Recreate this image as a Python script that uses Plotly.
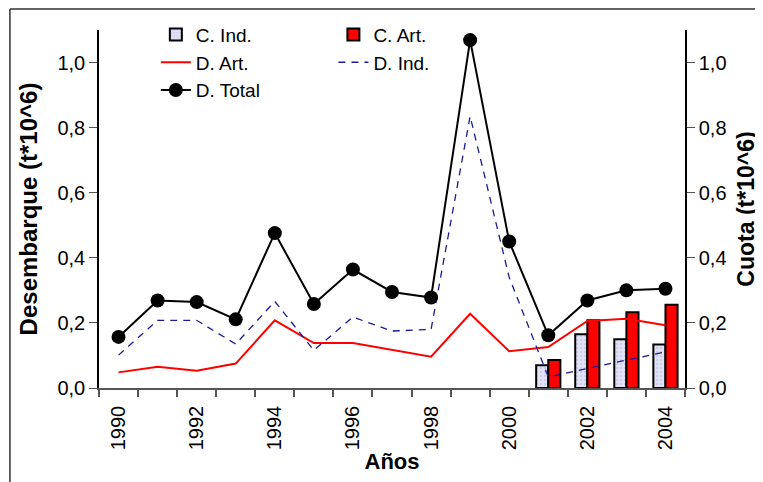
import plotly.graph_objects as go

years = [1990, 1991, 1992, 1993, 1994, 1995, 1996, 1997, 1998, 1999, 2000, 2001, 2002, 2003, 2004]
d_total = [0.157, 0.269, 0.264, 0.211, 0.476, 0.258, 0.364, 0.295, 0.278, 1.069, 0.450, 0.162, 0.269, 0.300, 0.305]
d_art = [0.048, 0.065, 0.053, 0.075, 0.208, 0.138, 0.138, 0.118, 0.096, 0.228, 0.113, 0.126, 0.206, 0.213, 0.193]
d_ind = [0.101, 0.208, 0.208, 0.135, 0.266, 0.116, 0.218, 0.175, 0.180, 0.835, 0.340, 0.034, 0.060, 0.085, 0.111]

quota_years = [2001, 2002, 2003, 2004]
c_ind = [0.070, 0.165, 0.150, 0.134]
c_art = [0.086, 0.208, 0.233, 0.256]

year_labels = [1990, 1992, 1994, 1996, 1998, 2000, 2002, 2004]

FONT = "Arial, 'Liberation Sans', sans-serif"

fig = go.Figure()

fig.add_trace(go.Bar(
    x=quota_years, y=c_ind, name="C. Ind.", yaxis="y2", offsetgroup="ind",
    marker=dict(color="#e4e4f8", line=dict(color="black", width=2),
                pattern=dict(shape=".", bgcolor="#e4e4f8", fgcolor="#b4b4dc", size=4, solidity=0.3)),
    legend="legend",
))
fig.add_trace(go.Bar(
    x=quota_years, y=c_art, name="C. Art.", yaxis="y2", offsetgroup="art",
    marker=dict(color="#ff0000", line=dict(color="black", width=2)),
    legend="legend2",
))
fig.add_trace(go.Scatter(
    x=years, y=d_art, name="D. Art.", mode="lines", yaxis="y",
    line=dict(color="#ff0000", width=2), legend="legend",
))
fig.add_trace(go.Scatter(
    x=years, y=d_ind, name="D. Ind.", mode="lines", yaxis="y",
    line=dict(color="#1a1a9a", width=1.3, dash="7px,6px"), legend="legend2",
))
fig.add_trace(go.Scatter(
    x=years, y=d_total, name="D. Total", mode="lines+markers", yaxis="y",
    line=dict(color="black", width=2),
    marker=dict(color="black", size=14, symbol="circle"), legend="legend",
))

legend_common = dict(
    font=dict(family=FONT, size=19, color="black"),
    bgcolor="rgba(0,0,0,0)", borderwidth=0, tracegroupgap=0,
    itemwidth=30, xanchor="left", yanchor="top", traceorder="normal",
)

fig.update_layout(
    width=755, height=474,
    margin=dict(l=91, r=78, t=22, b=94, autoexpand=False),
    paper_bgcolor="white", plot_bgcolor="white",
    separators=",.",
    font=dict(family=FONT, size=20, color="black"),
    barmode="group", bargap=0.38, bargroupgap=0,
    showlegend=True,
    legend=dict(x=0.097, y=1.04, **legend_common),
    legend2=dict(x=0.40, y=1.04, **legend_common),
    xaxis=dict(
        range=[1989.5, 2004.5], tickmode="array", tickvals=year_labels,
        ticktext=[str(y) for y in year_labels], tickangle=-90,
        ticks="outside", ticklen=8, tickcolor="rgba(0,0,0,0)",
        tickfont=dict(size=20),
        showline=True, linecolor="#555555", linewidth=1.5, mirror=False,
        showgrid=False, zeroline=False,
        minor=dict(tickmode="linear", tick0=1989.5, dtick=1, ticks="outside",
                   ticklen=7, tickwidth=1.5, tickcolor="#555555", showgrid=False),
        title=dict(text="<b>Años</b>", font=dict(size=22), standoff=4),
    ),
    yaxis2=dict(
        range=[0, 1.1], side="right", anchor="x",
        tickmode="array", tickvals=[0, 0.2, 0.4, 0.6, 0.8, 1.0],
        tickformat=".1f", ticks="outside", ticklen=8, tickwidth=1.2, tickcolor="#555555",
        tickfont=dict(size=20),
        showline=True, linecolor="black", linewidth=1.5,
        showgrid=False, zeroline=False,
        title=dict(text="<b>Cuota (t*10^6)</b>", font=dict(size=23), standoff=12),
    ),
    yaxis=dict(
        range=[0, 1.1], overlaying="y2", side="left", anchor="x",
        tickmode="array", tickvals=[0, 0.2, 0.4, 0.6, 0.8, 1.0],
        tickformat=".1f", ticks="outside", ticklen=8, tickwidth=1.2, tickcolor="#555555",
        tickfont=dict(size=20),
        showline=True, linecolor="black", linewidth=1.5,
        showgrid=False, zeroline=False,
        title=dict(text="<b>Desembarque (t*10^6)</b>", font=dict(size=24), standoff=13),
    ),
    shapes=[
        dict(type="line", xref="paper", yref="paper", x0=-0.152, x1=1.3, y0=1.059, y1=1.059,
             line=dict(color="#333333", width=1.5)),
        dict(type="line", xref="paper", yref="paper", x0=-0.152, x1=-0.152, y0=1.059, y1=-0.4,
             line=dict(color="#333333", width=1.5)),
    ],
)

fig.write_html("out.html")
